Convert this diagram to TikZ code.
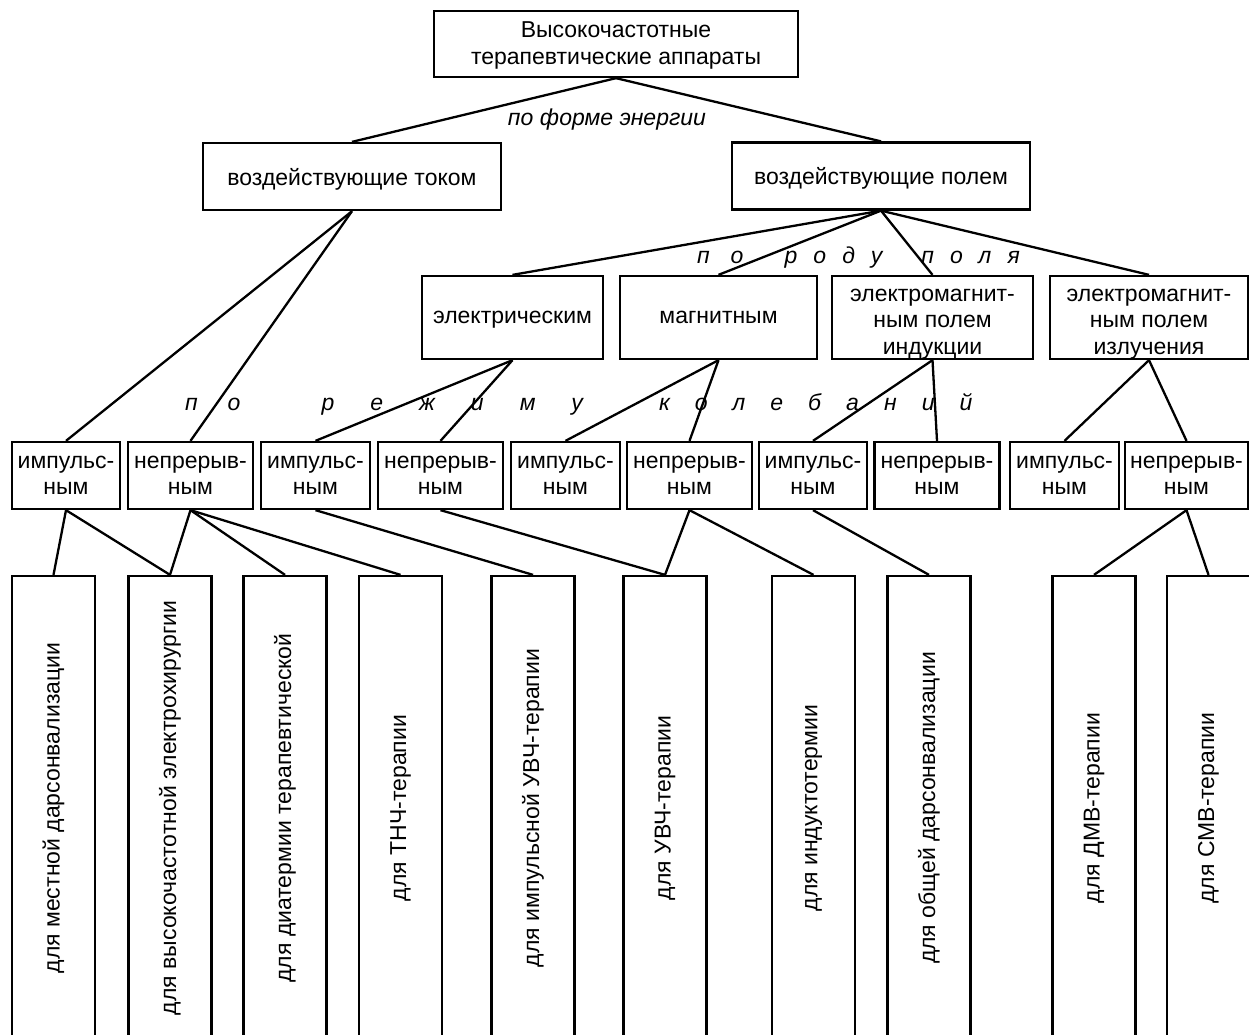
\documentclass[tikz,border=0pt]{standalone}
\usepackage{fontspec}
\setmainfont{Liberation Sans}
\newcommand\razr[2]{{\addfontfeatures{LetterSpace=#1}#2}}

\begin{document}
\begin{tikzpicture}[x=1pt, y=-1pt, line width=2.3pt]

  % Стили
  \tikzstyle{blok} = [draw, rectangle, align=center, inner sep=2pt, font=\fontsize{23}{26.5}\selectfont]
  \tikzstyle{rod} = [blok, minimum height=83pt]
  \tikzstyle{rezhim} = [blok, minimum height=67pt]
  \tikzstyle{stolb} = [blok, rotate=90, minimum width=464pt, minimum height=83pt]
  \tikzstyle{podpis} = [inner sep=0pt, font=\fontsize{23}{26.5}\selectfont\itshape]

  \useasboundingbox (0,0) rectangle (1249,1034);
  \clip (0,0) rectangle (1249,1034);

  % Аппараты
  \node[blok, minimum width=364pt, minimum height=66pt] (apparaty) at (616,44) {\rule{0pt}{19pt}Высокочастотные\\терапевтические аппараты};

  % По форме энергии
  \node[blok, text depth=0pt, minimum width=298pt, minimum height=67pt] (tokom) at (352,176.5) {воздействующие током};
  \node[blok, text depth=0pt, minimum width=298pt, minimum height=67pt] (polem) at (881,176) {воздействующие полем};
  \node[podpis, anchor=base] (forma) at (607,125) {по форме энергии};

  % По роду поля
  \node[rod, text depth=0pt, minimum width=181pt] (elektr) at (512.5,317.5) {электрическим};
  \node[rod, text depth=0pt, minimum width=197pt] (magnit) at (718.5,317.5) {магнитным};
  \node[rod, inner ysep=0pt, minimum width=201pt] (indukc) at (932.5,317.5) {\rule{0pt}{25pt}электромагнит-\\ным полем\\индукции};
  \node[rod, inner ysep=0pt, minimum width=198pt] (izluch) at (1149,317.5) {\rule{0pt}{25pt}электромагнит-\\ным полем\\излучения};
  \node[podpis, anchor=base west] (rodpolya) at (696,263)
    {\razr{91}{по}\hspace{41pt}\razr{70}{роду}\hspace{39pt}\razr{70}{поля}};

  % По режиму колебаний
  \node[rezhim, minimum width=108pt] (imp1) at (66,475.5) {импульс-\\ным};
  \node[rezhim, minimum width=125pt] (nepr2) at (190.5,475.5) {непрерыв-\\ным};
  \node[rezhim, minimum width=109pt] (imp3) at (315.5,475.5) {импульс-\\ным};
  \node[rezhim, minimum width=125pt] (nepr4) at (440.5,475.5) {непрерыв-\\ным};
  \node[rezhim, minimum width=109pt] (imp5) at (565.5,475.5) {импульс-\\ным};
  \node[rezhim, minimum width=125pt] (nepr6) at (689.5,475.5) {непрерыв-\\ным};
  \node[rezhim, minimum width=108pt] (imp7) at (813,475.5) {импульс-\\ным};
  \node[rezhim, minimum width=125pt] (nepr8) at (937,475.5) {непрерыв-\\ным};
  \node[rezhim, minimum width=109pt] (imp9) at (1064.5,475.5) {импульс-\\ным};
  \node[rezhim, minimum width=123pt] (nepr10) at (1186.5,475.5) {непрерыв-\\ным};
  \node[podpis, anchor=base west] (rezhimkol) at (184,410)
    {\razr{130}{по}\hspace{81pt}\razr{157}{режиму}\hspace{76pt}\razr{109}{колебаний}};

  % Аппараты по назначению
  \node[stolb] (mestn) at (53.5,808) {для местной дарсонвализации};
  \node[stolb] (vysok) at (170,808) {для высокочастотной электрохирургии};
  \node[stolb] (diaterm) at (285,808) {для диатермии терапевтической};
  \node[stolb] (tnch) at (400.5,808) {для ТНЧ-терапии};
  \node[stolb] (impuvch) at (533,808) {для импульсной УВЧ-терапии};
  \node[stolb] (uvch) at (665,808) {для УВЧ-терапии};
  \node[stolb] (indukt) at (813.5,808) {для индуктотермии};
  \node[stolb] (obshch) at (929,808) {для общей дарсонвализации};
  \node[stolb] (dmv) at (1094,808) {для ДМВ-терапии};
  \node[stolb] (smv) at (1208.5,808) {для СМВ-терапии};

  % Связи: аппараты -> ток / поле
  \draw (apparaty.south) -- (tokom.north);
  \draw (apparaty.south) -- (polem.north);
  % поле -> род поля
  \draw (polem.south) -- (elektr.north);
  \draw (polem.south) -- (magnit.north);
  \draw (polem.south) -- (indukc.north);
  \draw (polem.south) -- (izluch.north);
  % -> режим колебаний
  \draw (tokom.south) -- (imp1.north);
  \draw (tokom.south) -- (nepr2.north);
  \draw (elektr.south) -- (imp3.north);
  \draw (elektr.south) -- (nepr4.north);
  \draw (magnit.south) -- (imp5.north);
  \draw (magnit.south) -- (nepr6.north);
  \draw (indukc.south) -- (imp7.north);
  \draw (indukc.south) -- (nepr8.north);
  \draw (izluch.south) -- (imp9.north);
  \draw (izluch.south) -- (nepr10.north);
  % -> назначение
  \draw (imp1.south) -- (mestn.east);
  \draw (imp1.south) -- (vysok.east);
  \draw (nepr2.south) -- (vysok.east);
  \draw (nepr2.south) -- (diaterm.east);
  \draw (nepr2.south) -- (tnch.east);
  \draw (imp3.south) -- (impuvch.east);
  \draw (nepr4.south) -- (uvch.east);
  \draw (nepr6.south) -- (uvch.east);
  \draw (nepr6.south) -- (indukt.east);
  \draw (imp7.south) -- (obshch.east);
  \draw (nepr10.south) -- (dmv.east);
  \draw (nepr10.south) -- (smv.east);

\end{tikzpicture}
\end{document}
